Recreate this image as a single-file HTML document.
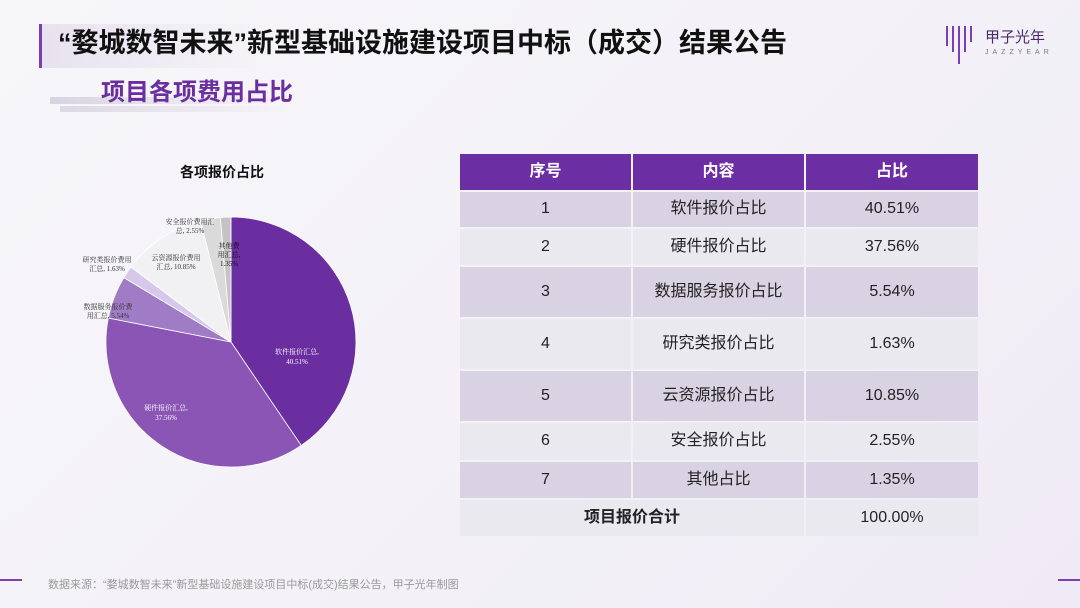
<!DOCTYPE html>
<html><head><meta charset="utf-8"><style>
body{margin:0;width:1080px;height:608px;overflow:hidden;background:linear-gradient(135deg,#f7f6f9,#f3f1f7 60%,#efeaf6);font-family:"Liberation Sans","Noto Sans CJK SC",sans-serif;position:relative}
.t{position:absolute;left:58px;top:26px;font-size:27px;line-height:34px;font-weight:bold;color:#111;white-space:nowrap}
.bar{position:absolute;left:39px;top:24px;width:3px;height:44px;background:#7a3fb5}
.hb{position:absolute;left:42px;top:24px;width:230px;height:44px;background:linear-gradient(90deg,#e8e2f0,rgba(255,255,255,0))}
.sub{position:absolute;left:101px;top:78px;font-size:24px;line-height:30px;font-weight:bold;color:#6a2ea0}
.sb1{position:absolute;left:50px;top:97px;width:230px;height:7px;background:linear-gradient(90deg,#d8d3e0,rgba(255,255,255,0))}
.sb2{position:absolute;left:60px;top:106px;width:230px;height:6px;background:linear-gradient(90deg,#dcd8e4,rgba(255,255,255,0))}
table{position:absolute;left:460px;top:154px;border-collapse:separate;border-spacing:2px;margin:-2px}
td{text-align:center;font-size:16px;line-height:20px;color:#222;padding:0;vertical-align:middle}
td span{display:inline-block;line-height:20px;vertical-align:middle}
tr.h td{background:#6c2ea3;color:#fff;font-weight:bold;height:36px}
tr.o td{background:#d8d2e3}tr.e td{background:#ebe9f0}
.foot{position:absolute;left:48px;top:576px;font-size:11px;color:#999}
.logo{position:absolute;left:985px;top:26px;font-size:15px;color:#4b2a6a}
</style></head><body>
<div class="hb"></div><div class="bar"></div>
<div class="t">“婺城数智未来”新型基础设施建设项目中标（成交）结果公告</div>
<svg style="position:absolute;left:944px;top:24px" width="36" height="44"><g stroke="#7a3fb5" stroke-width="2"><line x1="3" y1="2" x2="3" y2="22"/><line x1="9" y1="2" x2="9" y2="28"/><line x1="15" y1="2" x2="15" y2="40"/><line x1="21" y1="2" x2="21" y2="28"/><line x1="27" y1="2" x2="27" y2="18"/></g></svg>
<div class="logo">甲子光年<div style="font-size:7px;letter-spacing:4px;color:#777;margin-top:2px">JAZZYEAR</div></div>
<div class="sb1"></div><div class="sb2"></div>
<div class="sub">项目各项费用占比</div>
<div style="position:absolute;left:180px;top:162px;font-size:14px;font-weight:bold;color:#111">各项报价占比</div>
<svg id="pie" style="position:absolute;left:0;top:0" width="460" height="520"></svg>
<table>
<tr class="h"><td style="width:171px"><span>序号</span></td><td style="width:171px"><span>内容</span></td><td style="width:172px"><span>占比</span></td></tr>
<tr class="o"><td style="height:35px"><span>1</span></td><td><span>软件报价占比</span></td><td><span>40.51%</span></td></tr>
<tr class="e"><td style="height:36px"><span>2</span></td><td><span>硬件报价占比</span></td><td><span>37.56%</span></td></tr>
<tr class="o"><td style="height:50px"><span>3</span></td><td><span>数据服务报价占比</span></td><td><span>5.54%</span></td></tr>
<tr class="e"><td style="height:50px"><span>4</span></td><td><span>研究类报价占比</span></td><td><span>1.63%</span></td></tr>
<tr class="o"><td style="height:50px"><span>5</span></td><td><span>云资源报价占比</span></td><td><span>10.85%</span></td></tr>
<tr class="e"><td style="height:37px"><span>6</span></td><td><span>安全报价占比</span></td><td><span>2.55%</span></td></tr>
<tr class="o"><td style="height:36px"><span>7</span></td><td><span>其他占比</span></td><td><span>1.35%</span></td></tr>
<tr class="e"><td colspan="2" style="height:36px;font-weight:bold"><span>项目报价合计</span></td><td><span>100.00%</span></td></tr>
</table>
<div style="position:absolute;left:0;top:579px;width:22px;height:2px;background:#7a3fb5"></div>
<div style="position:absolute;left:1058px;top:579px;width:22px;height:2px;background:#7a3fb5"></div>
<div class="foot">数据来源：“婺城数智未来”新型基础设施建设项目中标(成交)结果公告，甲子光年制图</div>
<script>
var d=[40.51,37.56,5.54,1.63,10.85,2.55,1.35],c=['#6a2ea0','#8a55b5','#a07cc6','#d6c8ea','#f1f1f3','#dadada','#c4c4c4'];
var cx=231,cy=342,r=125,a=0,s='';
for(var i=0;i<7;i++){var b=a+d[i]/100*2*Math.PI;
var x1=cx+r*Math.sin(a),y1=cy-r*Math.cos(a),x2=cx+r*Math.sin(b),y2=cy-r*Math.cos(b);
s+='<path d="M'+cx+','+cy+'L'+x1+','+y1+'A'+r+','+r+' 0 '+((b-a)>Math.PI?1:0)+' 1 '+x2+','+y2+'Z" fill="'+c[i]+'" stroke="#fff" stroke-width="0.8"/>';a=b;}
function t(x,y,str,col,fs){return '<text x="'+x+'" y="'+y+'" font-size="'+(fs||7)+'" fill="'+col+'" text-anchor="middle" font-family="Liberation Serif,Noto Serif CJK SC,serif">'+str+'</text>';}
s+=t(297,354,'软件报价汇总,','#fff')+t(297,364,'40.51%','#fff');
s+=t(166,410,'硬件报价汇总,','#fff')+t(166,420,'37.56%','#fff');
s+=t(108,309,'数据服务报价费','#333')+t(108,318,'用汇总, 5.54%','#333');
s+=t(107,262,'研究类报价费用','#333')+t(107,271,'汇总, 1.63%','#333');
s+=t(176,260,'云资源报价费用','#333')+t(176,269,'汇总, 10.85%','#333');
s+=t(190,224,'安全报价费用汇','#333')+t(190,233,'总, 2.55%','#333');
s+=t(229,248,'其他费','#111')+t(229,257,'用汇总,','#111')+t(229,266,'1.35%','#111');
document.getElementById('pie').innerHTML=s;
</script>
</body></html>
